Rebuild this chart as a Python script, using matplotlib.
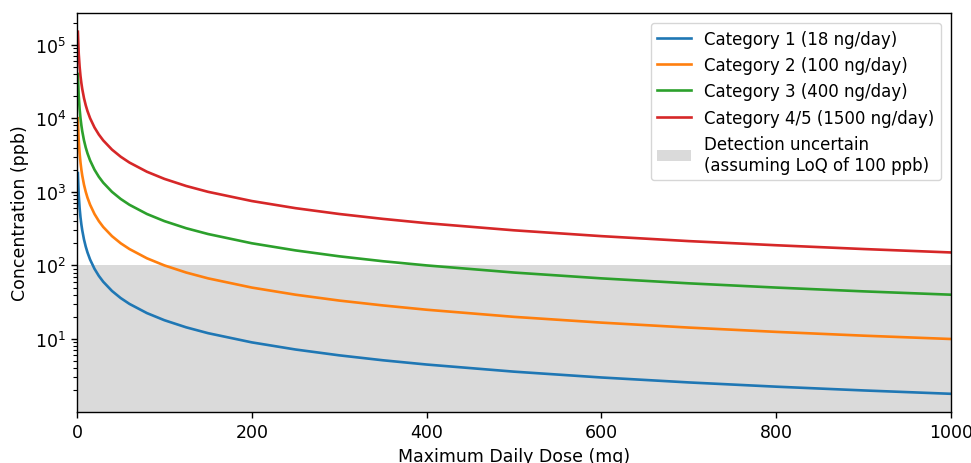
import numpy as np
import matplotlib
matplotlib.use('Agg')
import matplotlib.pyplot as plt

# values (ppb at each daily dose in mg)
dose = [1, 2, 3, 4, 5, 6, 8, 10, 12, 15, 20, 25, 30, 40, 50, 60, 80, 100,
        125, 150, 200, 250, 300, 350, 400, 500, 600, 700, 800, 900, 1000]

cat1 = [1800, 900, 600, 450, 360, 300, 225, 180, 150, 120, 90, 72, 60, 45, 36,
        30, 22.5, 18, 14.4, 12, 9, 7.2, 6, 5.14, 4.5, 3.6, 3, 2.57, 2.25, 2, 1.8]
cat2 = [10000, 5000, 3333, 2500, 2000, 1667, 1250, 1000, 833, 667, 500, 400,
        333, 250, 200, 167, 125, 100, 80, 66.7, 50, 40, 33.3, 28.6, 25, 20,
        16.7, 14.3, 12.5, 11.1, 10]
cat3 = [40000, 20000, 13333, 10000, 8000, 6667, 5000, 4000, 3333, 2667, 2000,
        1600, 1333, 1000, 800, 667, 500, 400, 320, 267, 200, 160, 133, 114,
        100, 80, 66.7, 57.1, 50, 44.4, 40]
cat45 = [150000, 75000, 50000, 37500, 30000, 25000, 18750, 15000, 12500,
         10000, 7500, 6000, 5000, 3750, 3000, 2500, 1875, 1500, 1200, 1000,
         750, 600, 500, 429, 375, 300, 250, 214, 188, 167, 150]

labels = ['Category 1 (18 ng/day)',
          'Category 2 (100 ng/day)',
          'Category 3 (400 ng/day)',
          'Category 4/5 (1500 ng/day)']
loq = 100
loq_label = 'Detection uncertain\n(assuming LoQ of 100 ppb)'

plt.rcParams['font.size'] = 12.5

fig = plt.figure(figsize=(9.71, 4.64), dpi=100)
ax = fig.add_axes([0.0793, 0.110, 0.9001, 0.860])

for i, vals in enumerate([cat1, cat2, cat3, cat45]):
    ax.plot(dose, vals, color='C%d' % i, lw=1.9, label=labels[i])
ax.axhspan(0.01, loq, color='#dadada', lw=0, zorder=0, label=loq_label)

ax.set_yscale('log')
ax.set_xlim(0, 1000)
ax.set_ylim(1.02, 2.7e5)
ax.set_xticks([0, 200, 400, 600, 800, 1000])
ax.tick_params(which='major', length=4.5, width=1.0)
ax.tick_params(which='minor', length=2.6, width=0.8)
for s in ax.spines.values():
    s.set_linewidth(1.0)

ax.set_xlabel('Maximum Daily Dose (mg)')
ax.set_ylabel('Concentration (ppb)')
ax.legend(loc='upper right', fontsize=12, borderaxespad=0.6)

plt.savefig('out.png', dpi=100)
